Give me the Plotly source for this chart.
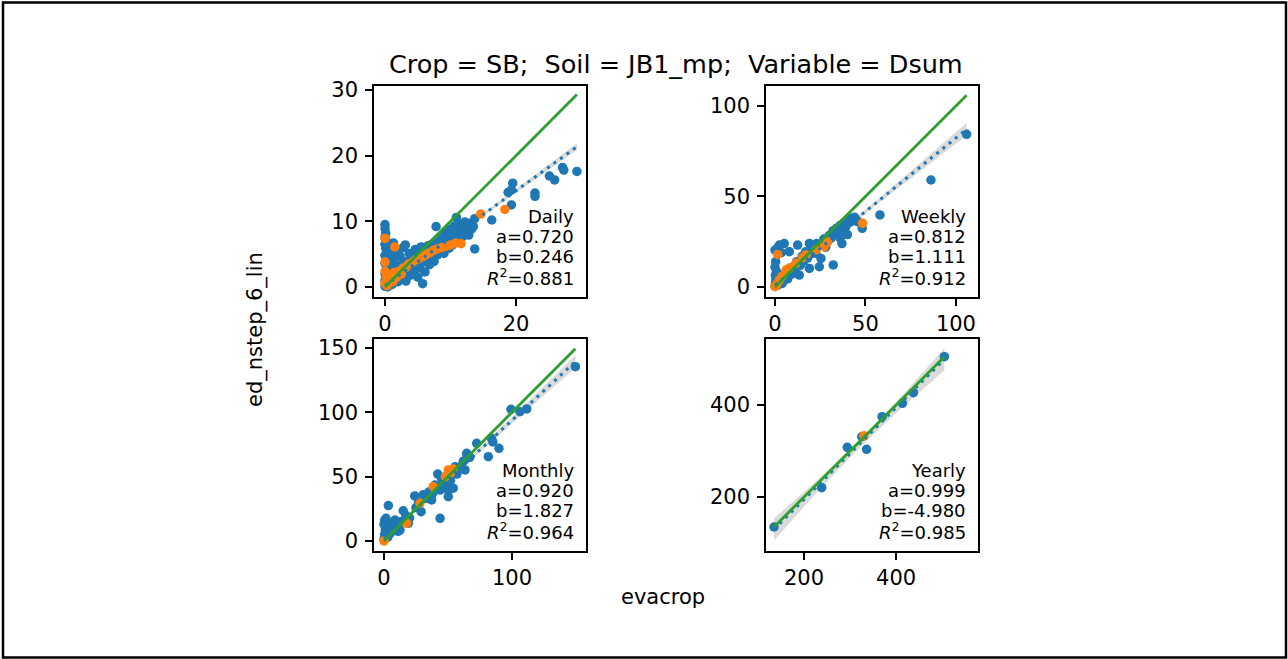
import plotly.graph_objects as go

# ---------------- data ----------------
periods = ["Daily", "Weekly", "Monthly", "Yearly"]
fit_a = [0.720, 0.812, 0.920, 0.999]
fit_b = [0.246, 1.111, 1.827, -4.980]
fit_r2 = [0.881, 0.912, 0.964, 0.985]

daily_blue = [
    (0.0, 9.5), (0.0, 8.9), (0.1, 8.2), (0.0, 7.6), (0.2, 7.0), (0.0, 6.5), (0.1, 5.9), (0.3, 5.3),
    (0.0, 4.8), (0.2, 4.2), (0.0, 3.6), (0.3, 3.1), (0.1, 2.5), (0.0, 2.0), (0.2, 1.5), (0.0, 1.0),
    (0.1, 0.5), (0.0, 0.1), (0.4, 0.0), (0.6, 6.2), (0.5, 4.5), (0.7, 2.8), (0.8, 1.2), (0.9, 5.2),
    (1.0, 3.6), (1.1, 0.4), (1.2, 2.2), (1.3, 6.7), (1.4, 4.3), (1.6, 1.6), (1.7, 3.2), (1.9, 5.6),
    (2.0, 0.8), (2.1, 2.5), (2.3, 4.7), (2.4, 1.4), (2.6, 3.5), (2.8, 6.0), (2.9, 2.1), (3.1, 6.4),
    (3.2, 0.9), (3.3, 3.9), (3.5, 2.6), (3.7, 5.1), (3.9, 1.8), (4.0, 3.3), (4.2, 4.6), (4.4, 2.4),
    (4.6, 5.7), (4.8, 3.6), (5.0, 1.5), (5.1, 4.9), (5.3, 2.9), (5.5, 6.1), (5.75, 0.5), (5.8, 3.8),
    (6.1, 2.3), (6.2, 5.0), (6.4, 4.2), (6.6, 6.3), (6.8, 3.4), (7.0, 5.3), (7.1, 4.6), (7.3, 6.6),
    (7.5, 3.9), (7.7, 5.8), (7.8, 9.2), (8.0, 4.9), (8.2, 6.9), (8.4, 5.6), (8.6, 7.4), (8.8, 6.2),
    (9.0, 5.1), (9.1, 7.9), (9.3, 6.6), (9.5, 8.4), (9.6, 7.0), (9.8, 5.9), (10.0, 8.8), (10.1, 7.4),
    (10.3, 6.4), (10.5, 8.1), (10.6, 9.3), (10.8, 7.6), (10.9, 10.6), (11.0, 8.6), (11.2, 7.1),
    (11.4, 9.0), (11.5, 8.1), (11.7, 9.6), (11.9, 7.7), (12.0, 8.9), (12.2, 9.9), (12.4, 8.4),
    (12.6, 9.3), (12.8, 7.9), (13.0, 9.7), (13.2, 8.8), (13.5, 9.2), (13.7, 10.4), (13.7, 5.8),
    (16.3, 10.2), (18.8, 14.4), (19.3, 14.8), (19.5, 15.8), (19.3, 12.5), (22.9, 14.3), (22.9, 13.8),
    (25.1, 16.9), (25.9, 16.3), (27.1, 18.2), (27.3, 17.8), (29.3, 17.6),
]
daily_orange = [
    (0.0, 7.4), (1.5, 6.1), (0.0, 3.8), (0.0, 2.4), (0.2, 1.6), (0.0, 0.6), (0.3, 0.2), (0.6, 1.0),
    (0.9, 1.8), (1.2, 0.8), (1.4, 2.2), (1.8, 1.5), (2.1, 2.4), (2.5, 2.0), (2.8, 2.9), (3.2, 3.0),
    (3.6, 3.5), (4.1, 3.7), (4.6, 4.1), (5.1, 4.3), (5.7, 4.6), (6.2, 4.9), (6.8, 5.2), (7.4, 5.6),
    (8.0, 5.8), (8.7, 6.0), (9.3, 6.2), (10.0, 6.4), (10.8, 6.7), (11.6, 6.6), (14.6, 11.1), (18.3, 11.8),
]
weekly_blue = [
    (0.0, 0.5), (0.3, 2.5), (0.5, 4.5), (0.2, 6.5), (0.8, 8.5), (0.0, 11.0), (0.4, 14.0), (0.0, 20.4),
    (1.5, 21.5), (2.4, 23.2), (5.1, 24.0), (3.5, 19.0), (1.5, 1.0), (2.5, 3.5), (3.5, 6.0), (4.0, 2.0),
    (5.0, 5.0), (6.0, 8.0), (7.0, 4.5), (7.9, 19.5), (8.0, 9.5), (9.0, 7.0), (10.0, 11.0), (11.0, 9.0),
    (12.0, 14.0), (12.5, 23.2), (13.4, 6.6), (14.0, 12.0), (15.0, 17.0), (16.0, 14.5), (17.0, 19.5),
    (18.0, 16.0), (19.0, 24.1), (19.0, 10.3), (20.0, 18.5), (21.0, 21.0), (22.6, 18.6), (23.0, 24.0),
    (24.5, 11.2), (25.4, 15.8), (26.0, 23.0), (27.0, 26.5), (28.0, 22.0), (29.0, 25.0), (30.0, 28.5),
    (31.0, 27.0), (32.0, 31.0), (32.2, 12.2), (33.0, 29.5), (34.0, 32.5), (35.0, 30.0), (36.0, 34.0),
    (36.0, 27.0), (37.0, 24.0), (37.0, 32.0), (38.0, 35.5), (39.0, 33.0), (40.0, 37.0), (40.0, 29.0),
    (41.0, 35.5), (42.0, 38.0), (43.0, 36.5), (44.0, 38.5), (45.0, 37.0), (46.0, 36.0), (48.2, 32.4),
    (58.0, 39.8), (86.2, 59.1), (105.9, 84.3),
]
weekly_orange = [
    (1.5, 18.0), (0.0, 0.2), (1.0, 1.5), (2.4, 3.9), (4.0, 6.0), (6.1, 9.4), (8.0, 10.5), (11.6, 13.1),
    (15.3, 16.2), (17.1, 17.7), (22.6, 20.4), (27.2, 22.3), (29.1, 25.0), (48.4, 35.2),
]
monthly_blue = [
    (0.0, 1.5), (0.5, 5.0), (1.0, 9.0), (0.0, 13.0), (1.6, 17.6), (0.5, 16.0), (3.4, 27.5), (2.1, 8.5),
    (1.6, 13.7), (3.0, 3.0), (4.0, 11.0), (5.0, 6.0), (6.0, 11.1), (7.0, 14.0), (8.6, 16.3), (9.0, 9.0),
    (10.0, 12.0), (11.0, 7.5), (12.5, 8.5), (13.0, 15.0), (15.0, 23.5), (16.4, 16.3), (17.0, 20.0),
    (19.0, 13.7), (20.0, 18.0), (24.0, 35.0), (25.0, 26.0), (27.0, 30.0), (29.0, 22.8), (30.7, 36.0),
    (33.0, 33.0), (35.0, 38.0), (37.2, 31.9), (38.0, 37.0), (39.8, 43.5), (42.0, 52.0), (43.8, 39.6),
    (43.8, 17.6), (45.0, 48.7), (46.0, 45.0), (47.7, 43.5), (48.0, 50.0), (50.2, 39.6), (50.2, 34.4),
    (52.0, 47.0), (54.1, 41.0), (55.5, 57.7), (57.0, 52.0), (58.0, 56.0), (60.0, 58.0), (63.3, 55.2),
    (62.0, 62.0), (64.6, 68.1), (65.0, 66.0), (67.0, 65.0), (72.4, 75.9), (81.5, 65.5), (84.0, 79.8),
    (85.0, 77.0), (89.8, 72.0), (99.2, 102.3), (106.2, 100.5), (111.5, 102.6), (149.5, 135.5),
]
monthly_orange = [
    (0.0, 0.0), (17.7, 13.7), (28.1, 29.3), (38.5, 42.2), (48.0, 50.0), (50.2, 55.2), (52.0, 53.0),
    (54.0, 56.0),
]
yearly_blue = [
    (134.8, 134.8), (238.4, 220.3), (294.0, 308.0), (325.4, 331.0), (336.0, 303.6), (369.6, 374.6),
    (413.8, 403.6), (437.7, 426.8), (505.0, 505.0),
]
yearly_orange = [(330.0, 333.0)]

# confidence band half-widths of the fit
ci_x = [[0, 10, 20, 29.3], [0, 30, 60, 105.9], [0, 50, 100, 149.5], [134.8, 227.4, 320.0, 412.5, 505.0]]
ci_half = [[0.2, 0.15, 0.3, 0.5], [0.8, 0.6, 1.3, 3.5], [1.8, 1.2, 2.4, 5.0], [24, 13, 8, 13, 24]]

x_ticks = [[0, 20], [0, 50, 100], [0, 100], [200, 400]]
y_ticks = [[0, 10, 20, 30], [0, 50, 100], [0, 50, 100, 150], [200, 400]]

blue_sets = [daily_blue, weekly_blue, monthly_blue, yearly_blue]
orange_sets = [daily_orange, weekly_orange, monthly_orange, yearly_orange]

# ---------------- layout geometry ----------------
W, H = 1288, 659
FONT = "DejaVu Sans"
# panel pixel boxes (left, right, top, bottom)
boxes = [(374, 586, 86, 297), (766, 978, 86, 297), (374, 586, 339, 551), (766, 978, 339, 551)]
x_ranges = [(-1.68, 30.69), (-4.97, 112.2), (-7.8, 157.8), (117.4, 578.0)]
y_ranges = [(-1.52, 30.6), (-5.5, 111.0), (-7.8, 157.0), (82.6, 543.5)]

BLUE, ORANGE, GREEN = "#1f77b4", "#ff7f0e", "#2ca02c"

fig = go.Figure()
layout = dict(
    width=W, height=H, margin=dict(l=0, r=0, t=0, b=0, pad=0, autoexpand=False),
    paper_bgcolor="white", plot_bgcolor="white", showlegend=False,
    font=dict(family=FONT, color="black"),
)
annotations = []

for i in range(4):
    n = "" if i == 0 else str(i + 1)
    xa, ya = "x" + n, "y" + n
    l, r, t, b = boxes[i]
    common = dict(
        ticks="outside", ticklen=7, tickwidth=1.6, tickcolor="black", automargin=False,
        showline=True, linecolor="black", linewidth=1.6, mirror=True, showgrid=False, zeroline=False,
        tickfont=dict(family=FONT, size=21, color="black"),
    )
    layout["xaxis" + n] = dict(domain=[l / W, r / W], anchor=ya, range=list(x_ranges[i]),
                               tickvals=x_ticks[i], **common)
    layout["yaxis" + n] = dict(domain=[1 - b / H, 1 - t / H], anchor=xa, range=list(y_ranges[i]),
                               tickvals=y_ticks[i], ticklabelstandoff=3, **common)

    bx = [p[0] for p in blue_sets[i]]
    by = [p[1] for p in blue_sets[i]]
    ox = [p[0] for p in orange_sets[i]]
    oy = [p[1] for p in orange_sets[i]]
    allx = bx + ox
    xmin, xmax = min(allx), max(allx)
    a, bb = fit_a[i], fit_b[i]

    # confidence band
    up = [a * x + bb + h for x, h in zip(ci_x[i], ci_half[i])]
    lo = [a * x + bb - h for x, h in zip(ci_x[i], ci_half[i])]
    fig.add_trace(go.Scatter(
        x=ci_x[i] + ci_x[i][::-1], y=up + lo[::-1], xaxis=xa, yaxis=ya,
        fill="toself", fillcolor="rgba(150,150,150,0.35)", line=dict(width=0), mode="lines",
        hoverinfo="skip"))
    fig.add_trace(go.Scatter(x=bx, y=by, xaxis=xa, yaxis=ya, mode="markers",
                             marker=dict(color=BLUE, size=9.5, line=dict(width=0))))
    fig.add_trace(go.Scatter(x=ox, y=oy, xaxis=xa, yaxis=ya, mode="markers",
                             marker=dict(color=ORANGE, size=9.5, line=dict(width=0))))
    fig.add_trace(go.Scatter(x=[xmin, xmax], y=[a * xmin + bb, a * xmax + bb], xaxis=xa, yaxis=ya,
                             mode="lines", line=dict(color=BLUE, width=3, dash="3px,5px")))
    fig.add_trace(go.Scatter(x=[xmin, xmax], y=[xmin, xmax], xaxis=xa, yaxis=ya,
                             mode="lines", line=dict(color=GREEN, width=2.8)))

    lines = [periods[i], "a=%.3f" % a, "b=%.3f" % bb, "<i>R</i><sup>2</sup>=%.3f" % fit_r2[i]]
    for k, txt in enumerate(lines):
        yc = b - 20 - (3 - k) * 20.3
        annotations.append(dict(
            text=txt, xref="paper", yref="paper", x=(r - 10) / W, y=1 - yc / H,
            xanchor="right", yanchor="middle", showarrow=False,
            font=dict(family=FONT, size=18, color="black")))

annotations.append(dict(text="Crop = SB;  Soil = JB1_mp;  Variable = Dsum", xref="paper", yref="paper",
                        x=676 / W, y=1 - 64 / H, xanchor="center", yanchor="middle", showarrow=False,
                        font=dict(family=FONT, size=25.5, color="black")))
annotations.append(dict(text="evacrop", xref="paper", yref="paper", x=663 / W, y=1 - 597 / H,
                        xanchor="center", yanchor="middle", showarrow=False,
                        font=dict(family=FONT, size=21, color="black")))
annotations.append(dict(text="ed_nstep_6_lin", xref="paper", yref="paper", x=255 / W, y=1 - 330 / H,
                        xanchor="center", yanchor="middle", showarrow=False, textangle=-90,
                        font=dict(family=FONT, size=21, color="black")))
layout["annotations"] = annotations
layout["shapes"] = [dict(type="rect", xref="paper", yref="paper",
                         x0=3 / W, x1=1286 / W, y0=1 - 657.5 / H, y1=1 - 2.5 / H,
                         line=dict(color="black", width=2.5), fillcolor="rgba(0,0,0,0)")]
fig.update_layout(**layout)
fig.write_html(
    "out.html",
    config={"displayModeBar": False},
    post_script=(
        "document.body.style.margin='0';document.body.style.padding='0';"
        "document.documentElement.style.overflow='hidden';"
        "var d=document.getElementById('{plot_id}');"
        "d.style.position='absolute';d.style.top='0px';d.style.left='0px';"
    ),
)
